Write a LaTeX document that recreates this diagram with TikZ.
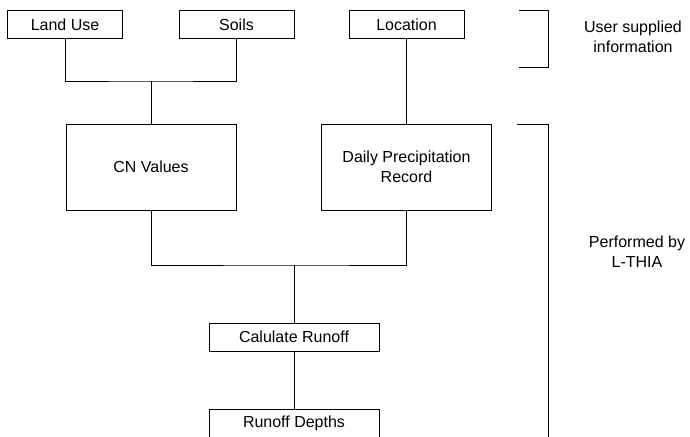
\documentclass[tikz,border=0pt]{standalone}
\usepackage{fontspec}
\setmainfont{Liberation Sans}
\begin{document}
\begin{tikzpicture}[x=1pt,y=-1pt,
  every node/.style={font=\fontsize{16}{20}\selectfont, inner sep=0pt, align=center},
  box/.style={draw, line width=1pt, rectangle},
  small/.style={box, minimum width=115pt, minimum height=28pt},
  big/.style={box, minimum width=170pt, minimum height=86pt},
  mid/.style={box, minimum width=170pt, minimum height=28pt},
  conn/.style={line width=1pt},
  lbl/.style={}]
\useasboundingbox (0,0) rectangle (690,436);
\clip (0,0) rectangle (690,436);
\fill[white] (0,0) rectangle (690,436);
\node[small] (landuse) at (65,25) {Land Use};
\node[small] (soils) at (236.5,25) {Soils};
\node[small] (location) at (406.5,25) {Location};
\node[big] (cn) at (151,167) {CN Values};
\node[big] (daily) at (406.5,167) {Daily Precipitation\\Record};
\node[mid] (calc) at (294,337) {Calulate Runoff};
\node[mid] (depths) at (294,423) {Runoff Depths};
\coordinate (j1) at (151,81);
\coordinate (j2) at (294,265);
\draw[conn] (landuse.south) |- (j1) -| (soils.south);
\draw[conn] (j1) -- (cn.north);
\draw[conn] (location.south) -- (daily.north);
\draw[conn] (cn.south) |- (j2) -| (daily.south);
\draw[conn] (j2) -- (calc.north);
\draw[conn] (calc.south) -- (depths.north);
% brackets
\coordinate (b1a) at (519,11);
\coordinate (b1b) at (548,11);
\coordinate (b1c) at (548,67);
\coordinate (b1d) at (519,67);
\draw[conn] (b1a) -- (b1b) -- (b1c) -- (b1d);
\coordinate (b2a) at (517,124);
\coordinate (b2b) at (548,124);
\coordinate (b2c) at (548,440);
\draw[conn] (b2a) -- (b2b) -- (b2c);
\node[lbl] (user) at (633,37) {User supplied\\information};
\node[lbl] (perf) at (637,252) {Performed by\\L-THIA};
\end{tikzpicture}
\end{document}
